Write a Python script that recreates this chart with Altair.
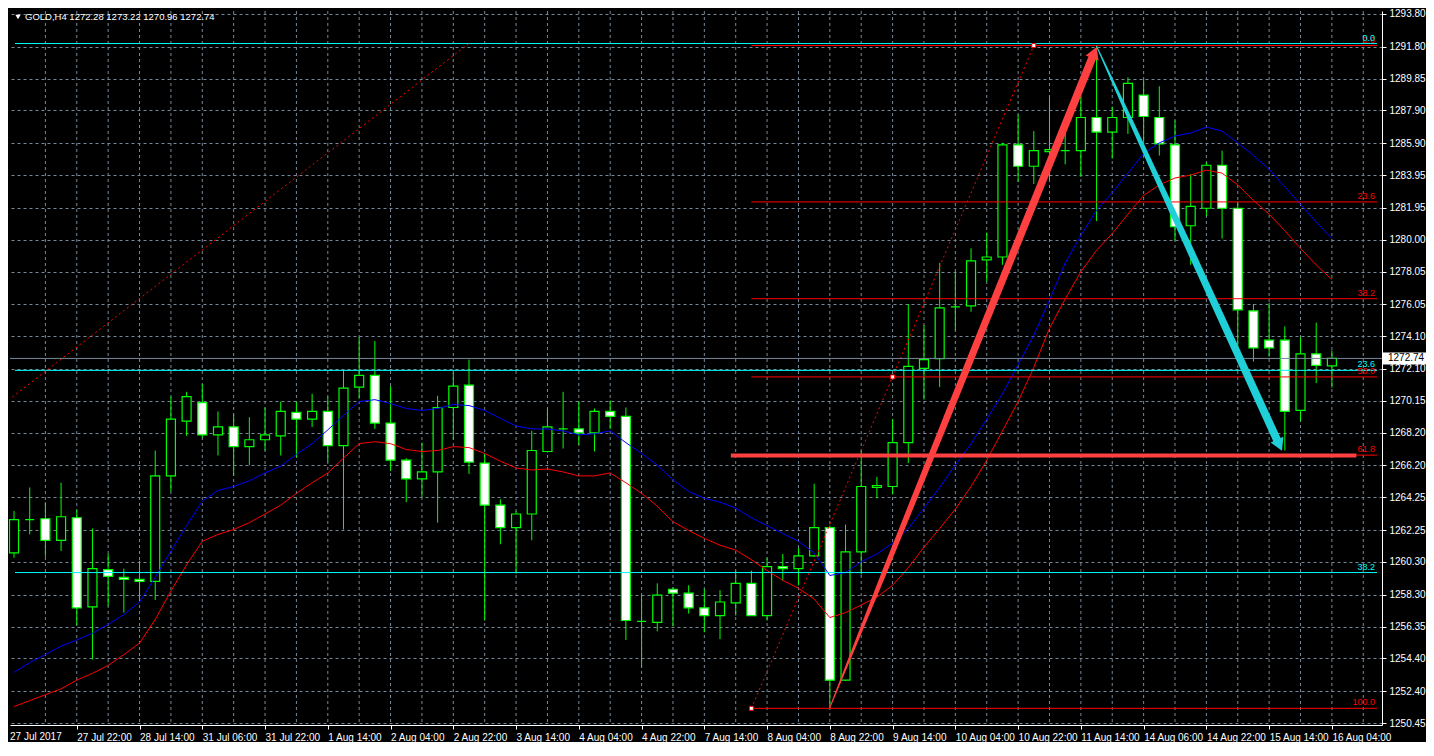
import json
import altair as alt
import pandas as pd

# ---------------- data ----------------
bars = list(range(85))
opens = [1260.85, 1262.88, 1262.94, 1261.62, 1263.00, 1257.55, 1259.83, 1259.35, 1259.23, 1259.11,
         1265.56, 1268.91, 1270.04, 1268.07, 1268.55, 1267.35, 1267.77, 1268.01, 1269.44, 1269.03,
         1269.50, 1267.41, 1270.99, 1271.71, 1268.79, 1266.52, 1265.38, 1265.80, 1269.74, 1271.11,
         1266.34, 1263.77, 1262.40, 1263.23, 1267.05, 1268.43, 1268.43, 1268.19, 1269.50, 1269.20,
         1256.66, 1256.60, 1258.63, 1258.39, 1257.49, 1257.02, 1257.79, 1258.99, 1257.02, 1260.01,
         1259.89, 1260.67, 1262.40, 1253.07, 1260.91, 1264.85, 1264.91, 1267.59, 1272.13, 1272.73,
         1275.89, 1275.95, 1278.76, 1278.94, 1285.80, 1284.49, 1285.38, 1285.44, 1285.44, 1287.47,
         1286.58, 1287.47, 1288.84, 1287.47, 1285.80, 1280.85, 1281.92, 1284.55, 1281.92, 1275.65,
         1273.86, 1273.86, 1269.56, 1273.02, 1272.28]
highs = [1263.41, 1264.85, 1263.95, 1265.14, 1263.47, 1262.34, 1260.79, 1259.89, 1260.37, 1267.11,
         1270.40, 1270.70, 1271.17, 1269.50, 1269.32, 1269.14, 1269.74, 1270.10, 1270.10, 1270.58,
         1270.40, 1272.01, 1274.04, 1273.80, 1271.05, 1266.64, 1267.59, 1270.46, 1271.89, 1272.67,
         1266.93, 1264.13, 1263.41, 1268.31, 1269.68, 1270.70, 1270.10, 1269.68, 1270.16, 1269.74,
         1258.27, 1258.99, 1258.75, 1258.87, 1258.63, 1258.57, 1259.77, 1259.77, 1260.55, 1260.79,
         1261.15, 1265.08, 1262.52, 1262.58, 1267.11, 1265.50, 1269.03, 1276.07, 1274.76, 1278.58,
         1278.04, 1279.47, 1280.43, 1285.92, 1287.65, 1286.64, 1288.84, 1286.52, 1288.72, 1291.89,
         1288.13, 1289.92, 1289.80, 1289.38, 1287.29, 1284.01, 1284.73, 1285.44, 1282.34, 1276.07,
         1276.13, 1274.70, 1274.04, 1274.93, 1273.22]
lows = [1260.55, 1261.98, 1260.61, 1260.97, 1256.42, 1254.33, 1257.61, 1257.20, 1257.85, 1257.97,
        1264.61, 1268.01, 1267.89, 1266.81, 1265.56, 1266.22, 1267.11, 1266.81, 1266.69, 1268.55,
        1266.40, 1262.28, 1270.28, 1268.43, 1265.86, 1263.95, 1264.25, 1262.70, 1267.77, 1265.68,
        1256.72, 1261.38, 1259.59, 1261.62, 1266.99, 1267.23, 1267.47, 1267.05, 1268.43, 1255.52,
        1253.85, 1256.06, 1256.36, 1257.14, 1256.00, 1255.58, 1257.02, 1257.02, 1256.72, 1259.17,
        1258.87, 1260.61, 1251.40, 1253.01, 1259.53, 1264.19, 1264.43, 1266.34, 1270.22, 1270.99,
        1274.46, 1275.59, 1277.44, 1278.46, 1283.53, 1283.41, 1283.65, 1284.61, 1283.83, 1281.14,
        1284.96, 1286.46, 1285.92, 1285.14, 1279.95, 1278.46, 1281.44, 1280.07, 1273.38, 1272.55,
        1272.85, 1267.11, 1268.91, 1271.23, 1270.96]
closes = [1262.88, 1262.88, 1261.62, 1263.06, 1257.49, 1259.89, 1259.41, 1259.23, 1259.11, 1265.56,
          1269.03, 1270.40, 1268.07, 1268.55, 1267.35, 1267.77, 1268.07, 1269.50, 1269.03, 1269.50,
          1267.41, 1270.93, 1271.71, 1268.79, 1266.52, 1265.38, 1265.80, 1269.74, 1271.05, 1266.40,
          1263.77, 1262.40, 1263.23, 1267.11, 1268.55, 1268.43, 1268.19, 1269.50, 1269.20, 1256.72,
          1256.66, 1258.27, 1258.39, 1257.49, 1257.02, 1257.85, 1258.99, 1257.02, 1260.01, 1259.89,
          1260.67, 1262.40, 1253.07, 1260.91, 1264.91, 1264.97, 1267.59, 1272.25, 1272.67, 1275.83,
          1275.89, 1278.70, 1278.94, 1285.80, 1284.49, 1285.44, 1285.50, 1285.44, 1287.47, 1286.58,
          1287.47, 1289.56, 1287.53, 1285.86, 1280.79, 1282.04, 1284.55, 1281.92, 1275.71, 1273.38,
          1273.38, 1269.50, 1273.02, 1272.31, 1272.74]
ma_blue = [1253.55, 1254.15, 1254.63, 1255.16, 1255.52, 1255.94, 1256.48, 1257.08, 1257.85, 1259.35,
           1260.97, 1262.52, 1264.01, 1264.67, 1264.91, 1265.26, 1265.74, 1266.16, 1266.87, 1267.53,
           1268.37, 1269.26, 1270.10, 1270.22, 1269.98, 1269.68, 1269.56, 1269.68, 1269.92, 1269.86,
           1269.56, 1269.08, 1268.61, 1268.43, 1268.43, 1268.31, 1268.07, 1268.13, 1268.31, 1267.59,
           1266.93, 1266.22, 1265.32, 1264.61, 1264.19, 1263.95, 1263.59, 1263.00, 1262.52, 1262.04,
           1261.56, 1260.85, 1259.47, 1259.65, 1260.31, 1260.79, 1261.44, 1262.34, 1263.59, 1264.85,
           1266.22, 1267.53, 1269.03, 1270.58, 1272.37, 1274.16, 1276.31, 1278.58, 1280.25, 1281.80,
           1282.87, 1284.07, 1285.26, 1285.92, 1286.34, 1286.52, 1286.88, 1286.64, 1285.92, 1285.14,
           1284.31, 1283.23, 1282.16, 1281.08, 1280.07]
ma_red = [1251.46, 1251.82, 1252.18, 1252.54, 1253.07, 1253.49, 1253.97, 1254.63, 1255.34, 1256.78,
          1258.52, 1260.13, 1261.56, 1261.98, 1262.28, 1262.70, 1263.23, 1263.77, 1264.49, 1265.14,
          1265.74, 1266.64, 1267.53, 1267.65, 1267.53, 1267.17, 1267.05, 1267.11, 1267.35, 1267.29,
          1266.93, 1266.46, 1266.04, 1265.92, 1265.98, 1265.80, 1265.56, 1265.56, 1265.74, 1265.14,
          1264.49, 1263.71, 1262.76, 1262.22, 1261.74, 1261.32, 1261.02, 1260.43, 1259.77, 1259.17,
          1258.69, 1258.03, 1256.90, 1257.20, 1257.67, 1258.15, 1258.87, 1259.95, 1261.20, 1262.34,
          1263.53, 1264.91, 1266.52, 1268.31, 1270.10, 1272.19, 1274.58, 1276.37, 1278.04, 1279.35,
          1280.37, 1281.56, 1282.70, 1283.35, 1283.77, 1283.95, 1284.25, 1284.07, 1283.35, 1282.40,
          1281.56, 1280.55, 1279.47, 1278.46, 1277.56]

time_label_bars = list(range(4, 85, 4))
time_labels = ["27 Jul 22:00", "28 Jul 14:00", "31 Jul 06:00", "31 Jul 22:00", "1 Aug 14:00",
               "2 Aug 04:00", "2 Aug 22:00", "3 Aug 14:00", "4 Aug 04:00", "4 Aug 22:00",
               "7 Aug 14:00", "8 Aug 04:00", "8 Aug 22:00", "9 Aug 14:00", "10 Aug 04:00",
               "10 Aug 22:00", "11 Aug 14:00", "14 Aug 06:00", "14 Aug 22:00", "15 Aug 14:00",
               "16 Aug 04:00"]
first_time_label = "27 Jul 2017"
price_ticks = [1293.80, 1291.80, 1289.85, 1287.90, 1285.90, 1283.95, 1281.95, 1280.00, 1278.05,
               1276.05, 1274.10, 1272.10, 1270.15, 1268.20, 1266.20, 1264.25, 1262.25, 1260.30,
               1258.30, 1256.35, 1254.40, 1252.40, 1250.45]
grid_bars = list(range(2, 87, 2))

# Fibonacci objects
red_fib_bars = [47, 65]
red_fib_prices = [1251.35, 1291.87]
red_fib_levels = [0.0, 23.6, 38.2, 50.0, 61.8, 100.0]
cyan_fib_bars = [-85.05, 29]
cyan_fib_prices = [1207.33, 1291.99]
cyan_fib_levels = [0.0, 23.6, 38.2]

# drawn objects
hline_price = 1266.81
hline_bars = [45.69, 85.56]
bid_price = 1272.74
red_arrow_bars = [52, 55.5, 60, 68.72]
red_arrow_prices = [1251.40, 1259.73, 1270.41, 1291.11]
red_arrow_widths = [1, 5, 7, 8]
red_head = (68.86, 1291.44)
cyan_arrow_bars = [69, 71, 75, 80.5]
cyan_arrow_prices = [1291.83, 1287.65, 1279.29, 1267.77]
cyan_arrow_widths = [1, 4, 7, 8]
cyan_head = (80.66, 1267.44)
title_text = "GOLD,H4  1272.28 1273.22 1270.96 1272.74"

# ---------------- chart ----------------
W, H = 1372, 714
X0, X1 = 0.0625, 86.875
GRID = "#778899"
GREEN = "#00FF00"
FONT = "Liberation Sans"

xs = alt.Scale(domain=[X0, X1], nice=False, zero=False)
ys = alt.Scale(domain=[1250.33, 1293.98], nice=False, zero=False)

label_expr = json.dumps(time_labels).replace('"', "'") + "[round(datum.value/4)-1]"
x_axis = alt.Axis(values=time_label_bars, labelExpr=label_expr, labelAlign="left", grid=False,
                  title=None, domainColor="white", tickColor="white", tickSize=4, labelPadding=3,
                  labelColor="white", labelFont=FONT, labelFontSize=10, labelOverlap=False,
                  labelFlush=False)
y_axis = alt.Axis(orient="right", values=price_ticks, format=".2f", grid=True, gridColor=GRID,
                  gridDash=[3, 3], gridWidth=1, title=None, domainColor="white", tickColor="white",
                  tickSize=4, labelPadding=3, labelColor="white", labelFont=FONT, labelFontSize=10,
                  labelOverlap=False, labelFlush=False)


def X(f):
    return alt.X(f, scale=xs, axis=x_axis)


def Y(f):
    return alt.Y(f, scale=ys, axis=y_axis)


candles = pd.DataFrame({"bar": bars, "open": opens, "high": highs, "low": lows, "close": closes})
ma = pd.DataFrame({"bar": bars, "blue": ma_blue, "red": ma_red})

vgrid = alt.Chart(pd.DataFrame({"g": grid_bars})).mark_rule(
    color=GRID, strokeDash=[3, 3], strokeWidth=1).encode(x=X("g:Q"))

wicks = alt.Chart(candles).mark_rule(color=GREEN, strokeWidth=1).encode(
    x=X("bar:Q"), y=Y("low:Q"), y2="high:Q")

bodies = alt.Chart(candles).mark_bar(width=9, stroke=GREEN, strokeWidth=1.2).encode(
    x=X("bar:Q"), y=Y("open:Q"), y2="close:Q",
    fill=alt.condition("datum.close >= datum.open", alt.value("#000000"), alt.value("#FFFFFF")))

blue_line = alt.Chart(ma).mark_line(color="#0000FF", strokeWidth=1, clip=True).encode(
    x=X("bar:Q"), y=Y("blue:Q"))
red_line = alt.Chart(ma).mark_line(color="#FF0000", strokeWidth=1, clip=True).encode(
    x=X("bar:Q"), y=Y("red:Q"))

# fib level lines
rf_hi, rf_lo = red_fib_prices[1], red_fib_prices[0]
cf_hi, cf_lo = cyan_fib_prices[1], cyan_fib_prices[0]
fib_rows = []
for lv in red_fib_levels:
    fib_rows.append({"x1": red_fib_bars[0], "x2": X1, "p": rf_hi - lv / 100 * (rf_hi - rf_lo),
                     "c": "#FF0000", "t": f"{lv:.1f}"})
for lv in cyan_fib_levels:
    fib_rows.append({"x1": X0, "x2": X1, "p": cf_hi - lv / 100 * (cf_hi - cf_lo),
                     "c": "#00FFFF", "t": f"{lv:.1f}"})
fib_df = pd.DataFrame(fib_rows)

fib_lines = alt.Chart(fib_df).mark_rule(strokeWidth=1, clip=True).encode(
    x=X("x1:Q"), x2="x2:Q", y=Y("p:Q"), color=alt.Color("c:N", scale=None))
fib_text = alt.Chart(fib_df).mark_text(align="right", baseline="bottom", dx=-2, dy=-1,
                                       font=FONT, fontSize=9).encode(
    x=X("x2:Q"), y=Y("p:Q"), text="t:N", color=alt.Color("c:N", scale=None))

diag_df = pd.DataFrame({"bar": red_fib_bars + cyan_fib_bars,
                        "p": red_fib_prices + cyan_fib_prices,
                        "g": ["r", "r", "c", "c"]})
diags = alt.Chart(diag_df).mark_line(color="#FF0000", strokeWidth=1, strokeDash=[2, 3],
                                     clip=True).encode(
    x=X("bar:Q"), y=Y("p:Q"), detail="g:N")

markers_df = pd.DataFrame({"bar": [red_fib_bars[0], (red_fib_bars[0] + red_fib_bars[1]) / 2, red_fib_bars[1]],
                           "p": [rf_lo, (rf_lo + rf_hi) / 2, rf_hi]})
markers = alt.Chart(markers_df).mark_point(shape="square", size=16, filled=True, fill="white",
                                           stroke="#FF0000", strokeWidth=1, opacity=1).encode(
    x=X("bar:Q"), y=Y("p:Q"))

hline = alt.Chart(pd.DataFrame({"x1": [hline_bars[0]], "x2": [hline_bars[1]], "p": [hline_price]})
                  ).mark_rule(color="#FF4040", strokeWidth=4).encode(
    x=X("x1:Q"), x2="x2:Q", y=Y("p:Q"))

bid = alt.Chart(pd.DataFrame({"p": [bid_price]})).mark_rule(color=GRID, strokeWidth=1).encode(
    y=Y("p:Q"))

red_arrow = alt.Chart(pd.DataFrame({"bar": red_arrow_bars, "p": red_arrow_prices,
                                    "w": red_arrow_widths})).mark_trail(color="#FF4040").encode(
    x=X("bar:Q"), y=Y("p:Q"), size=alt.Size("w:Q", scale=None, legend=None))
red_tip = alt.Chart(pd.DataFrame({"bar": [red_head[0]], "p": [red_head[1]]})).mark_point(
    shape="triangle-up", filled=True, size=196, angle=22, color="#FF4040", opacity=1).encode(
    x=X("bar:Q"), y=Y("p:Q"))

cyan_arrow = alt.Chart(pd.DataFrame({"bar": cyan_arrow_bars, "p": cyan_arrow_prices,
                                     "w": cyan_arrow_widths})).mark_trail(color="#20D0D8").encode(
    x=X("bar:Q"), y=Y("p:Q"), size=alt.Size("w:Q", scale=None, legend=None))
cyan_tip = alt.Chart(pd.DataFrame({"bar": [cyan_head[0]], "p": [cyan_head[1]]})).mark_point(
    shape="triangle-up", filled=True, size=196, angle=155.5, color="#20D0D8", opacity=1).encode(
    x=X("bar:Q"), y=Y("p:Q"))

# price box on the axis
box_df = pd.DataFrame({"hi": [bid_price + 0.37], "lo": [bid_price - 0.37], "p": [bid_price],
                       "t": [f"{bid_price:.2f}"]})
price_box = alt.Chart(box_df).mark_rect(color="white").encode(
    x=alt.value(W + 1), x2=alt.value(W + 44), y=Y("hi:Q"), y2="lo:Q")
price_txt = alt.Chart(box_df).mark_text(align="left", baseline="middle", color="black",
                                        font=FONT, fontSize=10).encode(
    x=alt.value(W + 6), y=Y("p:Q"), text="t:N")

title_tri = alt.Chart(pd.DataFrame({"a": [0]})).mark_point(
    shape="triangle-down", filled=True, size=28, color="white", opacity=1).encode(
    x=alt.value(8), y=alt.value(6))
title = alt.Chart(pd.DataFrame({"t": [title_text]})).mark_text(
    align="left", baseline="middle", color="white", font=FONT, fontSize=9.5).encode(
    x=alt.value(15), y=alt.value(6), text="t:N")
first_lbl = alt.Chart(pd.DataFrame({"t": [first_time_label]})).mark_text(
    align="left", baseline="top", color="white", font=FONT, fontSize=10).encode(
    x=alt.value(0), y=alt.value(H + 7), text="t:N")

chart = alt.layer(
    vgrid, wicks, bodies, blue_line, red_line, fib_lines, diags, bid, hline,
    red_arrow, red_tip, cyan_arrow, cyan_tip, markers, fib_text,
    price_box, price_txt, title_tri, title, first_lbl
).properties(width=W, height=H, background="#000000", padding=0
).configure_view(strokeWidth=0)

chart.save("out.html", embed_options={"renderer": "svg", "actions": False})
